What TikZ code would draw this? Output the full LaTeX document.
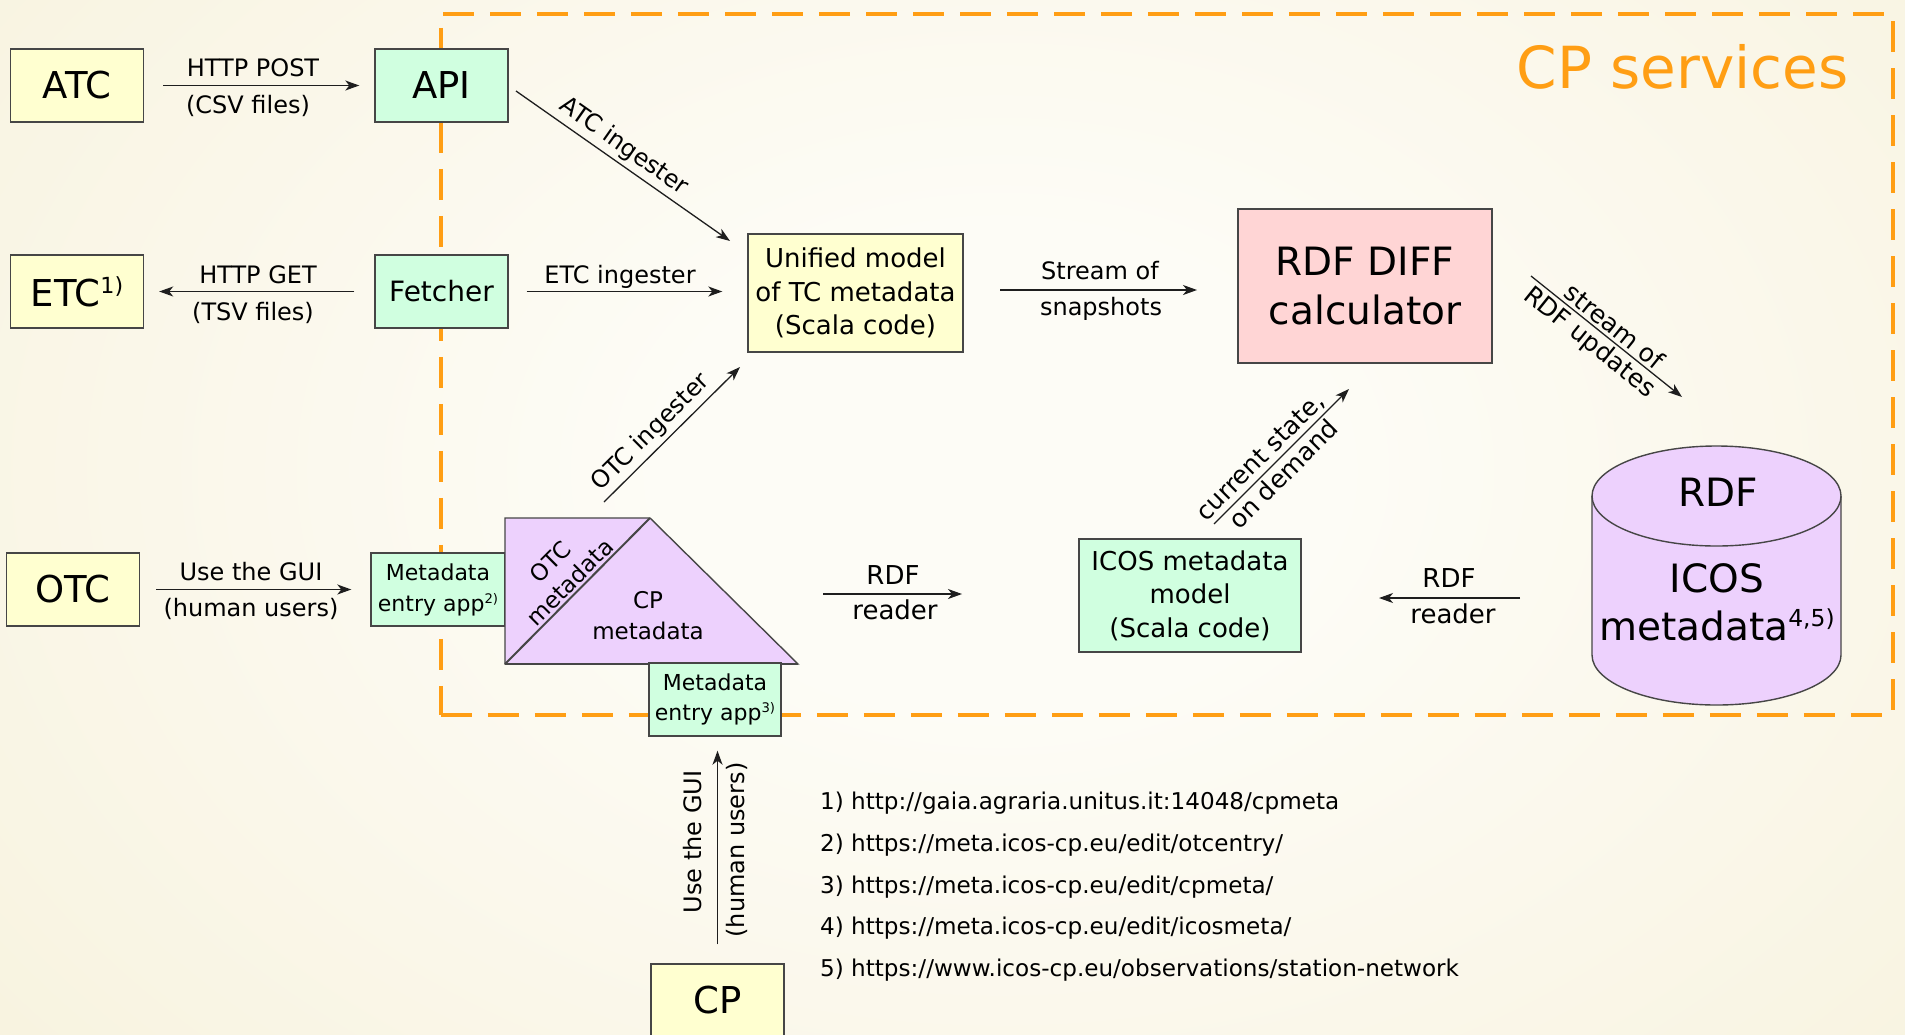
\documentclass[tikz,border=0pt]{standalone}
\usepackage{fontspec}
\usepackage{graphicx}
\setmainfont{DejaVu Sans}
\usetikzlibrary{arrows.meta}
\definecolor{bgout}{RGB}{244,236,206}
\definecolor{bgin}{RGB}{253,252,246}
\definecolor{cporange}{RGB}{255,158,20}
\definecolor{boxyellow}{RGB}{255,255,208}
\definecolor{boxgreen}{RGB}{208,255,224}
\definecolor{boxpink}{RGB}{255,213,213}
\definecolor{boxpurple}{RGB}{237,209,253}
\definecolor{edgec}{RGB}{70,70,70}
\definecolor{arrc}{RGB}{30,30,30}
\pgfdeclareradialshading{bgshade}{\pgfpoint{0bp}{0bp}}{color(0bp)=(bgin); color(6bp)=(bgin); color(36bp)=(bgout); color(50bp)=(bgout)}
\newcommand\supx[1]{\raisebox{0.65ex}{\scalebox{0.6}{#1}}}
\newcommand\fs[2]{\fontsize{#1}{#2}\selectfont}
\begin{document}
\begin{tikzpicture}[x=1pt,y=-1pt,
  box/.style={draw=edgec, line width=1.4pt, minimum width=133pt, minimum height=73pt, inner sep=0pt, align=center, font=\fs{37}{44}},
  ybox/.style={box, fill=boxyellow},
  gbox/.style={box, fill=boxgreen},
  smallbox/.style={font=\fs{22}{31}},
  conn/.style={draw=arrc, line width=1.3pt, -{Stealth[length=14pt,width=10pt,inset=4pt]}},
  lab/.style={font=\fs{24}{29}, inner sep=3pt, align=center},
  foot/.style={anchor=west, inner sep=0pt, font=\fs{23.1}{27}}]
\useasboundingbox (0,0) rectangle (1905,1034);
\clip (0,0) rectangle (1905,1034);
\fill[bgout] (0,0) rectangle (1905,1034);
\shade[shading=bgshade] (1000,470) ellipse [x radius=1400pt, y radius=1000pt];

% CP services frame
\node[draw=cporange, line width=3.5pt, dash pattern=on 31pt off 16pt, minimum width=1452pt, minimum height=701pt, inner sep=0pt, anchor=north west] (svc) at (439,12) {};
\node[anchor=east, text=cporange, inner sep=0pt, font=\fs{58}{70}] (svct) at (1849,67) {CP services};

% boxes
\node[ybox] (atc) at (77,85.5) {ATC};
\node[gbox] (api) at (441.5,85.5) {API};
\node[ybox] (etc) at (77,291.5) {ETC\supx{1)}};
\node[gbox, font=\fs{28}{34}] (fetch) at (441.5,291.5) {Fetcher};
\node[ybox] (otc) at (73,589.5) {OTC};
\node[gbox, smallbox, minimum width=134pt] (mea2) at (438,589.5) {Metadata\\entry app\supx{2)}};
\node[ybox] (cp) at (717.5,1000.5) {CP};
\node[ybox, minimum width=215pt, minimum height=118pt, font=\fs{26}{33.5}] (unif) at (855.5,293) {Unified model\\of TC metadata\\(Scala code)};
\node[box, fill=boxpink, minimum width=254pt, minimum height=154pt, font=\fs{39}{49}] (diff) at (1365,286) {RDF DIFF\\calculator};
\node[gbox, minimum width=222pt, minimum height=113pt, font=\fs{26}{33.5}] (icosm) at (1190,595.5) {ICOS metadata\\model\\(Scala code)};

% triangle of metadata
\coordinate (ta) at (505,518);
\coordinate (tb) at (650,518);
\coordinate (tc) at (505,664);
\coordinate (td) at (798,664);
\filldraw[fill=boxpurple, draw=edgec, line width=1.4pt] (ta) -- (tb) -- (td) -- (tc) -- cycle;
\draw[edgec, line width=2pt] (tb) -- (tc);
\draw[edgec, line width=2pt] (tc) -- (td);
\node[rotate=45, align=center, inner sep=0pt, font=\fs{23}{28}] (otcm) at (560,572) {OTC\\metadata};
\node[align=center, inner sep=0pt, font=\fs{23}{31}] (cpm) at (648,616) {CP\\metadata};
\node[gbox, smallbox, minimum width=132pt, font=\fs{22}{30}] (mea3) at (715,699.5) {Metadata\\entry app\supx{3)}};

% database cylinder
\fill[boxpurple, draw=edgec, line width=1.4pt] (1592,496) -- (1592,655) arc[start angle=180, end angle=360, x radius=124.5pt, y radius=50pt] -- (1841,496) arc[start angle=0, end angle=180, x radius=124.5pt, y radius=50pt] -- cycle;
\draw[edgec, line width=1.4pt] (1592,496) arc[start angle=180, end angle=360, x radius=124.5pt, y radius=50pt];
\node[minimum width=249pt, minimum height=259pt, inner sep=0pt] (db) at (1716.5,575.5) {};
\node[font=\fs{39}{48}, inner sep=0pt] (dbrdf) at (1718,492) {RDF};
\node[font=\fs{39}{48}, align=center, inner sep=0pt] (dbicos) at (1717,602) {ICOS\\metadata\supx{4,5)}};

% connectors
\draw[conn, shorten <=19pt, shorten >=15pt] (atc.east) -- (api.west);
\node[lab] (l1a) at (253,68) {HTTP POST};
\node[lab] (l1b) at (248,106) {(CSV files)};

\draw[conn, shorten <=20pt, shorten >=15pt] (fetch.west) -- (etc.east);
\node[lab] (l2a) at (258,275) {HTTP GET};
\node[lab] (l2b) at (253,313) {(TSV files)};

\draw[conn, shorten <=16pt, shorten >=19pt] (otc.east) -- (mea2.west);
\node[lab] (l3a) at (251,572) {Use the GUI};
\node[lab] (l3b) at (251,609) {(human users)};

\coordinate (atcs) at (516,91);
\coordinate (atce) at (730,241);
\draw[conn] (atcs) -- (atce) node[lab, sloped, above=1pt, pos=0.46] (l4) {ATC ingester};

\draw[conn, shorten <=18pt, shorten >=25pt] (fetch.east) -- (fetch.east -| unif.west);
\node[lab] (l5) at (620,277) {ETC ingester};

\coordinate (otcs) at (604,502);
\coordinate (otce) at (740,367);
\draw[conn] (otcs) -- (otce) node[lab, sloped, above=1pt, pos=0.43] (l6) {OTC ingester};

\coordinate (sts) at (1000,290);
\coordinate (ste) at (1197,290);
\draw[conn] (sts) -- (ste);
\node[lab] (l7a) at (1100,271) {Stream of};
\node[lab] (l7b) at (1101,309) {snapshots};

\coordinate (rus) at (1531,276);
\coordinate (rue) at (1682,397);
\draw[conn] (rus) -- (rue) node[lab, sloped, above=0pt, pos=0.5, font=\fs{25}{30}] (l8a) {stream of} node[lab, sloped, below=0pt, pos=0.45, font=\fs{25}{30}] (l8b) {RDF updates};

\coordinate (css) at (1214,524);
\coordinate (cse) at (1349,389);
\draw[conn] (css) -- (cse) node[lab, sloped, above=0pt, pos=0.42, font=\fs{25}{30}] (l9a) {current state,} node[lab, sloped, below=0pt, pos=0.44, font=\fs{25}{30}] (l9b) {on demand};

\coordinate (r1s) at (823,594);
\coordinate (r1e) at (962,594);
\draw[conn] (r1s) -- (r1e);
\node[lab, font=\fs{26}{31}] (l10a) at (893,575) {RDF};
\node[lab, font=\fs{26}{31}] (l10b) at (895,610) {reader};

\coordinate (r2s) at (1520,598);
\coordinate (r2e) at (1379,598);
\draw[conn] (r2s) -- (r2e);
\node[lab, font=\fs{26}{31}] (l11a) at (1449,578) {RDF};
\node[lab, font=\fs{26}{31}] (l11b) at (1453,614) {reader};

\draw[conn, shorten <=19pt, shorten >=14pt] (cp.north) -- (cp.north |- mea3.south);
\node[lab, rotate=90] (l12a) at (693,842) {Use the GUI};
\node[lab, rotate=90] (l12b) at (737,850) {(human users)};

% footnotes
\node[foot] (fn1) at (820,803) {1) http://gaia.agraria.unitus.it:14048/cpmeta};
\node[foot] (fn2) at (820,845) {2) https://meta.icos-cp.eu/edit/otcentry/};
\node[foot] (fn3) at (820,887) {3) https://meta.icos-cp.eu/edit/cpmeta/};
\node[foot] (fn4) at (820,928) {4) https://meta.icos-cp.eu/edit/icosmeta/};
\node[foot] (fn5) at (820,970) {5) https://www.icos-cp.eu/observations/station-network};
\end{tikzpicture}
\end{document}
